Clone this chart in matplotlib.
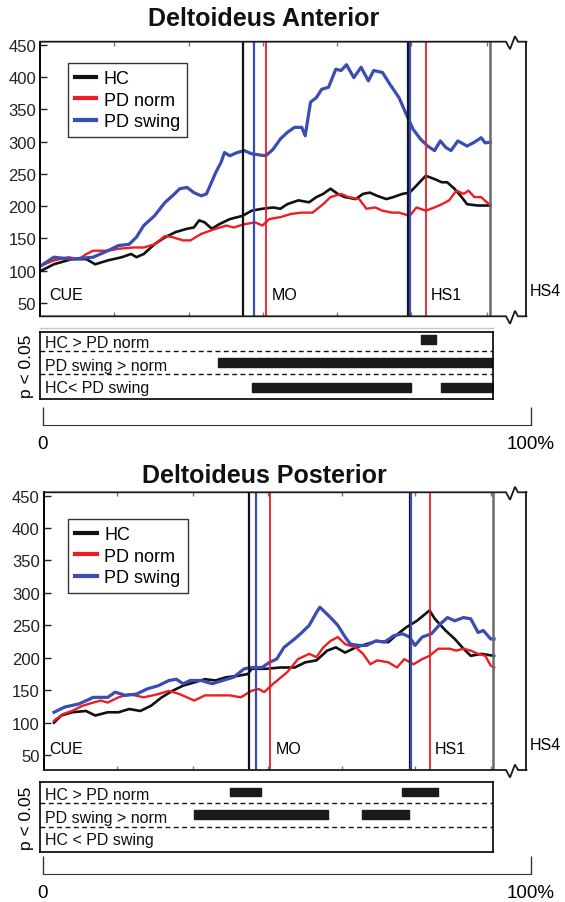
import matplotlib.pyplot as plt
from matplotlib.lines import Line2D

W, H = 565, 903
plt.rcParams['font.family'] = ['Liberation Sans', 'DejaVu Sans']

# ---- data: x in % of CUE..HS4, y in % of baseline ----
ant_hc_x = [0.2, 2.8, 6.5, 9.5, 11.3, 13.9, 16.8, 18.7, 19.8, 21.3, 23.5, 25.7, 27.9, 30.2, 31.6,
            32.7, 33.8, 35.3, 36.8, 39.0, 41.6, 43.5, 45.7, 47.9, 49.4, 50.8, 53.1, 55.3, 56.8, 58.2,
            59.7, 61.2, 62.7, 64.9, 66.4, 67.8, 69.3, 71.2, 72.6, 74.5, 76.0, 77.4, 79.3, 81.1, 82.6,
            83.7, 85.2, 86.7, 87.8, 90.0, 92.6]
ant_hc_y = [100, 110, 118, 118, 110, 116, 121, 126, 121, 126, 141, 152, 160, 165, 167,
            178, 175, 165, 172, 180, 185, 193, 196, 198, 196, 203, 209, 206, 214, 219,
            227, 219, 214, 211, 219, 221, 216, 211, 214, 219, 221, 232, 247, 242, 237,
            237, 227, 214, 203, 201, 201]

ant_pdn_x = [0.2, 2.8, 5.8, 8.0, 9.5, 10.9, 13.9, 16.1, 19.1, 21.3, 23.5, 25.7, 27.2, 29.4, 30.9,
             33.1, 36.1, 38.3, 39.8, 42.0, 44.2, 45.7, 47.1, 49.4, 51.6, 53.8, 56.0, 58.2, 59.7, 61.9,
             63.4, 65.6, 67.1, 68.9, 70.4, 72.3, 73.8, 76.0, 77.4, 79.3, 81.1, 82.6, 84.1, 85.6, 87.1,
             88.1, 89.3, 90.7, 92.6]
ant_pdn_y = [108, 116, 121, 118, 126, 131, 131, 134, 136, 136, 141, 154, 152, 147, 147,
             157, 165, 170, 167, 172, 175, 170, 180, 183, 188, 190, 190, 203, 214, 219,
             214, 211, 196, 198, 193, 190, 190, 185, 198, 193, 198, 203, 209, 224, 219,
             224, 214, 214, 201]

ant_pds_x = [0.2, 2.8, 6.5, 10.9, 13.9, 16.1, 18.3, 19.8, 21.3, 23.5, 25.7, 27.2, 28.7, 30.2, 31.6,
             33.1, 34.2, 36.1, 37.2, 37.9, 39.0, 40.5, 42.0, 43.5, 46.4, 47.9, 49.4, 50.8, 52.3, 53.8,
             54.5, 55.6, 56.8, 57.9, 59.3, 60.8, 61.9, 63.0, 64.5, 66.0, 67.5, 68.6, 70.4, 71.9, 73.8,
             75.6, 76.7, 78.2, 79.7, 81.1, 82.3, 83.4, 84.5, 85.9, 87.8, 89.3, 90.7, 91.5, 92.6]
ant_pds_y = [108, 121, 118, 121, 131, 139, 141, 152, 170, 185, 206, 216, 227, 229, 221,
             216, 219, 252, 268, 283, 278, 283, 286, 281, 278, 288, 304, 314, 322, 322,
             309, 361, 368, 381, 384, 412, 410, 419, 399, 415, 394, 410, 407, 389, 368,
             337, 319, 304, 293, 286, 301, 291, 286, 301, 293, 299, 306, 298, 299]

post_hc_x = [2.1, 3.6, 5.8, 8.7, 10.6, 13.2, 15.4, 17.6, 19.9, 22.1, 24.3, 26.5, 28.7, 31.0, 33.2,
             35.4, 37.6, 39.9, 42.1, 42.8, 45.8, 48.7, 51.7, 53.9, 56.2, 58.4, 60.2, 62.1, 64.3, 66.5,
             68.7, 71.0, 72.5, 74.7, 76.9, 79.5, 80.6, 82.8, 84.7, 86.5, 88.0, 90.2, 92.8]
post_hc_y = [100, 111, 116, 118, 111, 116, 116, 121, 118, 126, 139, 149, 157, 162, 167,
             165, 170, 172, 175, 183, 183, 185, 185, 193, 196, 211, 216, 208, 216, 221,
             226, 224, 234, 247, 257, 273, 260, 242, 229, 214, 203, 206, 203]

post_pdn_x = [2.1, 3.9, 5.8, 8.0, 10.2, 11.7, 13.2, 15.4, 17.6, 20.6, 23.6, 25.8, 28.0, 31.0, 33.2,
              35.4, 38.4, 40.6, 42.8, 44.3, 45.4, 47.3, 50.2, 52.4, 54.7, 56.2, 57.6, 59.1, 60.6, 62.1,
              64.3, 65.8, 67.3, 68.7, 71.0, 72.8, 74.3, 76.2, 78.0, 79.5, 81.3, 83.6, 85.0, 86.5, 88.0,
              89.5, 91.0, 92.1, 92.8]
post_pdn_y = [103, 113, 118, 126, 131, 134, 131, 139, 144, 139, 144, 149, 144, 134, 142,
              142, 142, 139, 149, 152, 147, 160, 178, 198, 206, 201, 216, 226, 232, 221,
              216, 206, 190, 196, 193, 185, 198, 190, 198, 203, 214, 214, 211, 214, 211,
              206, 203, 188, 185]

post_pds_x = [2.1, 4.3, 7.3, 10.2, 13.2, 14.7, 16.9, 19.1, 21.3, 23.6, 25.8, 27.3, 28.7, 30.2, 32.4,
              34.7, 36.9, 39.1, 41.3, 42.8, 45.0, 46.5, 48.0, 49.5, 51.7, 53.2, 54.7, 56.2, 56.9, 58.0,
              59.1, 60.6, 62.1, 63.2, 65.0, 66.5, 68.4, 70.2, 72.1, 73.9, 75.4, 76.5, 78.0, 79.9, 81.7,
              83.2, 84.7, 86.5, 88.0, 89.5, 90.6, 92.1, 92.8]
post_pds_y = [116, 124, 129, 139, 139, 147, 142, 144, 152, 157, 165, 167, 160, 165, 165,
              160, 165, 170, 183, 185, 185, 193, 198, 216, 229, 239, 250, 270, 278, 270,
              262, 250, 232, 221, 219, 219, 226, 224, 234, 237, 232, 219, 232, 237, 252,
              262, 257, 262, 260, 239, 242, 229, 229]

# event markers (MO, HS1 per group) and end of trace
ant_events = {'HC': [41.8, 75.6], 'PD norm': [46.5, 79.4], 'PD swing': [43.9, 76.0]}
post_events = {'HC': [42.3, 75.4], 'PD norm': [46.7, 79.6], 'PD swing': [43.7, 75.6]}
ant_end, post_end = 92.6, 92.6

# significant intervals (p < 0.05), start/end pairs per comparison
rows_ant = ['HC > PD norm', 'PD swing > norm', 'HC< PD swing']
sig_ant = [[(78.3, 81.4)], [(36.6, 92.8)], [(43.5, 76.2), (82.5, 93.1)]]
rows_post = ['HC > PD norm', 'PD swing > norm', 'HC < PD swing']
sig_post = [[(39.0, 45.5), (74.3, 81.7)], [(31.6, 59.2), (66.2, 75.8)], []]

yticks = [50, 100, 150, 200, 250, 300, 350, 400, 450]
ant_xticks = [15.2, 30.7, 45.8, 61.0, 76.2, 91.9]
post_xticks = [15.0, 30.7, 46.2, 61.4, 76.5, 92.1]

colors = {'HC': '#111111', 'PD norm': '#ee1d23', 'PD swing': '#3b4cb3'}
curve_lw = {'HC': 1.9, 'PD norm': 1.7, 'PD swing': 2.3}

fig = plt.figure(figsize=(W / 100, H / 100), dpi=100)


def rect(x0, y0, x1, y1):
    # pixel box (top-left origin) -> figure fraction
    return [x0 / W, 1 - y1 / H, (x1 - x0) / W, (y1 - y0) / H]


ov = fig.add_axes([0, 0, 1, 1], zorder=10)
ov.set_xlim(0, W)
ov.set_ylim(H, 0)
ov.axis('off')


def panel(title, title_y, box, ylim, curves, events, end, xticks, rows, sig,
          strip, scale_y, labels_y, leg_xy):
    x0, y0, x1, y1 = box
    ax = fig.add_axes(rect(x0, y0, x1, y1))
    ax.set_facecolor('none')
    for name, xs, ys in curves:
        ax.plot(xs, ys, color=colors[name], lw=curve_lw[name], zorder=2)
    for name in ['HC', 'PD swing', 'PD norm']:
        lw = 1.6 if name != 'PD norm' else 1.3
        for ev in events[name]:
            ax.axvline(ev, color=colors[name], lw=lw, zorder=3)
    ax.axvline(end, color='#6a6a6a', lw=1.8, zorder=3)
    ax.set_xlim(0, 100)
    ax.set_ylim(*ylim)
    ax.set_yticks(yticks)
    ax.set_xticks(xticks)
    ax.tick_params(axis='y', direction='in', length=5, width=1, pad=3,
                   labelsize=12, colors='#222222')
    ax.tick_params(axis='x', direction='in', length=3, width=1, color='#777777',
                   top=True, bottom=True, labelbottom=False)
    for s in ['top', 'bottom', 'right']:
        ax.spines[s].set_visible(False)
    ax.spines['left'].set_linewidth(1.4)

    handles = [Line2D([], [], color=colors[n], lw=3) for n in colors]
    lx, ly = leg_xy
    leg = ax.legend(handles, list(colors), loc='upper left',
                    bbox_to_anchor=((lx - x0) / (x1 - x0), 1 - (ly - y0) / (y1 - y0)),
                    fontsize=13, frameon=True, fancybox=False, edgecolor='black',
                    handlelength=1.2, handletextpad=0.4, labelspacing=0.25, borderpad=0.4,
                    borderaxespad=0)
    leg.get_frame().set_linewidth(1.0)

    # broken frame towards HS4
    xr = 526.4
    for yy in (y0, y1):
        ov.plot([x0, 506, 510, 515, 518, xr], [yy, yy, yy + 7.5, yy - 5.5, yy, yy],
                color='#1a1a1a', lw=1.3, solid_joinstyle='miter')
    ov.plot([xr, xr], [y0, y1], color='#111111', lw=1.3)

    ov.text(264, title_y, title, ha='center', va='center',
            fontsize=18, fontweight='bold', color='#111111')
    ov.text(49, labels_y, 'CUE', ha='left', va='center', fontsize=11.5)
    ov.text(x0 + (events['PD norm'][0] + 1.2) / 100 * (x1 - x0), labels_y, 'MO',
            ha='left', va='center', fontsize=11.5)
    ov.text(x0 + (events['PD norm'][1] + 1.0) / 100 * (x1 - x0), labels_y, 'HS1',
            ha='left', va='center', fontsize=11.5)
    ov.text(530, labels_y - 4, 'HS4', ha='left', va='center', fontsize=11.5)

    # significance strip
    sy0, sy1, bounds, bar_c, lab_c = strip
    sa = fig.add_axes(rect(40.2, sy0, 493, sy1))
    sa.set_xlim(0, 93.1)
    sa.set_ylim(sy1 - sy0, 0)
    sa.set_xticks([])
    sa.set_yticks([])
    for s in sa.spines.values():
        s.set_linewidth(1.2)
    for b in bounds:
        sa.axhline(b, color='#111111', lw=1.0, ls=(0, (3.5, 2.5)))
    for i, (lab, ints) in enumerate(zip(rows, sig)):
        sa.text(1.0, lab_c[i], lab, ha='left', va='center', fontsize=11.5, color='#111111')
        for a, b in ints:
            sa.broken_barh([(a, b - a)], (bar_c[i] - 4.3, 8.6), color='#1a1a1a')
    ov.text(27, (sy0 + sy1) / 2, 'p < 0.05', rotation=90, ha='center', va='center', fontsize=12.5)

    # 0 .. 100 % scale
    sc = fig.add_axes(rect(43, scale_y - 18, 530.7, scale_y))
    sc.set_facecolor('none')
    sc.set_xlim(0, 100)
    sc.set_yticks([])
    sc.set_xticks([0, 100])
    sc.set_xticklabels(['0', '100%'])
    for s in ['top', 'left', 'right']:
        sc.spines[s].set_visible(False)
    sc.spines['bottom'].set_color('#333333')
    sc.tick_params(axis='x', direction='in', length=13, width=1, color='#333333',
                   labelsize=13.5, pad=7)
    return ax


ax1 = panel('Deltoideus Anterior', 18.5, (40.2, 42.7, 526.4, 317.3), (29.5, 454.6),
            [('HC', ant_hc_x, ant_hc_y), ('PD norm', ant_pdn_x, ant_pdn_y),
             ('PD swing', ant_pds_x, ant_pds_y)],
            ant_events, ant_end, ant_xticks, rows_ant, sig_ant,
            (333.3, 400, [19, 41.7], [7.4, 30, 55], [10.7, 33.4, 54.7]), 426, 296, (67.5, 64))
ov.plot([40.2, 493], [329, 329], color='#c8c8c8', lw=1)

ax2 = panel('Deltoideus Posterior', 476, (43.8, 493.3, 529, 771), (27, 455.1),
            [('HC', post_hc_x, post_hc_y), ('PD norm', post_pdn_x, post_pdn_y),
             ('PD swing', post_pds_x, post_pds_y)],
            post_events, post_end, post_xticks, rows_post, sig_post,
            (783.3, 852.7, [21, 45], [9.9, 32.5, 55], [12.7, 35, 57.4]), 875, 750, (68, 520))

fig.savefig('out.png', dpi=100)
